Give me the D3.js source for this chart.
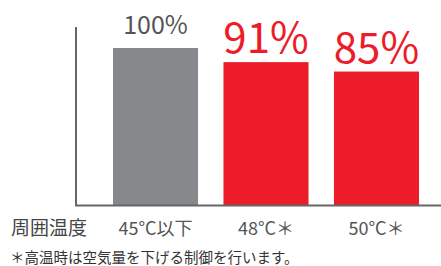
<!DOCTYPE html>
<html>
<head>
<meta charset="utf-8">
<script src="https://cdn.jsdelivr.net/npm/d3@7"></script>
<style>
  body { margin: 0; background: #fff; }
  svg text { font-family: "Noto Sans CJK JP", "Noto Sans", sans-serif; }
</style>
</head>
<body>
<script>
(function (){

    //chart data
    var categories = ["45°C以下", "48°C＊", "50°C＊"];
    var values = [100, 91, 85];
    var valueLabels = ["100%", "91%", "85%"];
    var axisTitle = "周囲温度";
    var footnote = "＊高温時は空気量を下げる制御を行います。";

    var width = 441,
        height = 266;

    var svg = d3.select("body")
        .append("svg")
        .attr("width", width)
        .attr("height", height);

    //scales
    var xScale = d3.scaleBand()
        .domain(categories)
        .range([113, 419])
        .paddingInner(0.23)
        .paddingOuter(0);

    var yScale = d3.scaleLinear()
        .domain([0, 100])
        .range([205, 48]);

    var barColor = function(i){ return i == 0 ? "#87888c" : "#ed1c29"; };
    var labelColor = function(i){ return i == 0 ? "#555555" : "#ed1c29"; };
    var labelSize = function(i){ return i == 0 ? "25px" : "42px"; };

    //bars
    svg.selectAll(".bar")
        .data(values)
        .enter()
        .append("rect")
        .attr("class", "bar")
        .attr("x", function(d, i){ return xScale(categories[i]); })
        .attr("width", xScale.bandwidth())
        .attr("y", function(d){ return yScale(d); })
        .attr("height", function(d){ return yScale(0) - yScale(d); })
        .style("fill", function(d, i){ return barColor(i); });

    //value labels
    svg.selectAll(".valueLabel")
        .data(values)
        .enter()
        .append("text")
        .attr("class", "valueLabel")
        .attr("x", function(d, i){ return xScale(categories[i]) + xScale.bandwidth() / 2; })
        .attr("y", function(d, i){ return yScale(d) - (i == 0 ? 14 : 9); })
        .attr("text-anchor", "middle")
        .style("font-size", function(d, i){ return labelSize(i); })
        .style("fill", function(d, i){ return labelColor(i); })
        .text(function(d, i){ return valueLabels[i]; });

    //axes lines
    svg.append("line")
        .attr("x1", 76).attr("x2", 76)
        .attr("y1", 27).attr("y2", yScale(0) + 1)
        .style("stroke", "#666").style("stroke-width", 2);

    svg.append("line")
        .attr("x1", 75).attr("x2", width)
        .attr("y1", yScale(0) + 0.5).attr("y2", yScale(0) + 0.5)
        .style("stroke", "#666").style("stroke-width", 2);

    //category labels
    svg.selectAll(".catLabel")
        .data(categories)
        .enter()
        .append("text")
        .attr("class", "catLabel")
        .attr("x", function(d){ return xScale(d) + xScale.bandwidth() / 2; })
        .attr("y", 235)
        .attr("text-anchor", "middle")
        .style("font-size", "18px")
        .style("fill", "#555")
        .text(function(d){ return d; });

    svg.append("text")
        .attr("x", 11)
        .attr("y", 235)
        .style("font-size", "19px")
        .style("fill", "#444")
        .text(axisTitle);

    svg.append("text")
        .attr("x", 10)
        .attr("y", 263)
        .style("font-size", "14.5px")
        .style("fill", "#333")
        .text(footnote);

})();
</script>
</body>
</html>
